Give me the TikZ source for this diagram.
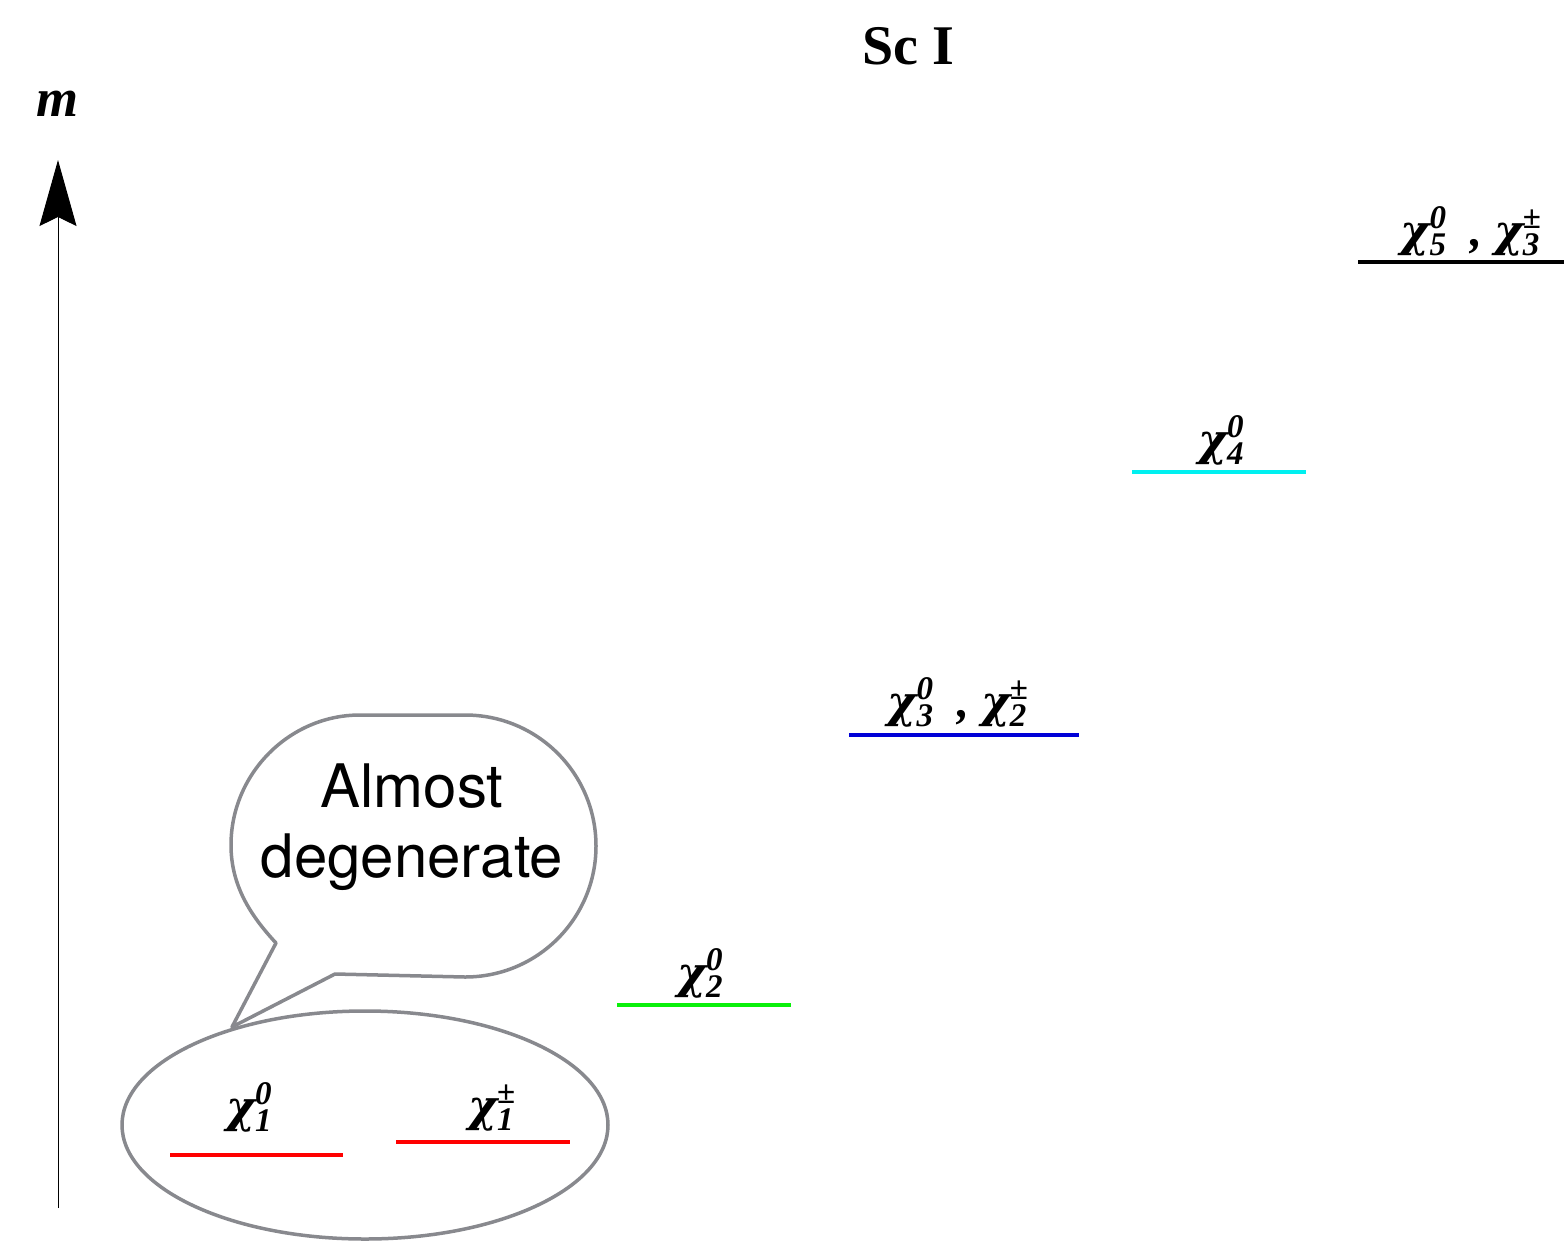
\documentclass[tikz,border=0pt]{standalone}
\usepackage{fontspec}
\setmainfont{Liberation Serif}
\newfontfamily\bubblefont{TeX Gyre Heros}
\newfontfamily\chifont{DejaVu Serif}
\usetikzlibrary{arrows.meta}
\definecolor{bubblegray}{RGB}{136,137,142}
\definecolor{lvgreen}{RGB}{10,240,10}
\definecolor{lvblue}{RGB}{0,0,215}
\definecolor{lvcyan}{RGB}{0,240,240}
\newcommand\chilab[2]{{\fontsize{48}{50}\selectfont\bfseries\itshape {\chifont\bfseries\itshape\fontsize{44}{50}\selectfont χ}\kern0pt\rlap{\raisebox{18pt}{\fontsize{33}{33}\selectfont #1}}\raisebox{-9pt}{\fontsize{33}{33}\selectfont #2}}}
\newcommand\pmsup{\upshape ±}
\newcommand\labcomma{{\fontsize{48}{50}\selectfont\bfseries\itshape\ \ ,\ }}
\begin{document}
\begin{tikzpicture}[x=1pt,y=-1pt,
  level/.style={line width=4pt},
  lab/.style={inner sep=0pt,anchor=center},
  bubble/.style={draw=bubblegray,line width=3.5pt,line join=round}]
\useasboundingbox (0,0) rectangle (1564,1240);
% title
\node[lab] (title) at (908,46) {\fontsize{56}{60}\selectfont\bfseries Sc I};
% axis
\coordinate (axbot) at (58,1208);
\coordinate (axtop) at (58,160);
\draw[line width=1pt,-{Stealth[length=66pt,width=37pt,inset=9pt]}] (axbot) -- (axtop);
\node[lab] (mlab) at (58,104) {\fontsize{54}{56}\selectfont\bfseries\itshape m};
% levels
\coordinate (l1a) at (170,1155); \coordinate (l1b) at (343,1155);
\draw[level,red] (l1a) -- (l1b);
\node[lab] (t1) at (249,1107) {\chilab{0}{1}};
\coordinate (l2a) at (396,1142); \coordinate (l2b) at (570,1142);
\draw[level,red] (l2a) -- (l2b);
\node[lab] (t2) at (491,1108) {\chilab{\pmsup}{1}};
\coordinate (l3a) at (617,1005); \coordinate (l3b) at (791,1005);
\draw[level,lvgreen] (l3a) -- (l3b);
\node[lab] (t3) at (700,973) {\chilab{0}{2}};
\coordinate (l4a) at (849,735); \coordinate (l4b) at (1079,735);
\draw[level,lvblue] (l4a) -- (l4b);
\node[lab] (t4) at (957,702) {\chilab{0}{3}\labcomma\chilab{\pmsup}{2}};
\coordinate (l5a) at (1132,472); \coordinate (l5b) at (1306,472);
\draw[level,lvcyan] (l5a) -- (l5b);
\node[lab] (t5) at (1221,440) {\chilab{0}{4}};
\coordinate (l6a) at (1358,262); \coordinate (l6b) at (1564,262);
\draw[level,black,line width=4.5pt] (l6a) -- (l6b);
\node[lab] (t6) at (1470,231) {\chilab{0}{5}\labcomma\chilab{\pmsup}{3}};
% ellipse
\draw[bubble] (365,1125) ellipse [x radius=243, y radius=114];
% speech bubble
\draw[bubble] (276,943) .. controls (250,915) and (231,885) .. (231,845)
  .. controls (231,774) and (289,715) .. (360,715)
  -- (465,715)
  .. controls (538,715) and (596,774) .. (596,846)
  .. controls (596,918) and (538,977) .. (465,977)
  -- (335,974) -- (232,1027) -- cycle;
\node[lab,align=center,font={\bubblefont\fontsize{60}{70}\selectfont}] (btext) at (412,827) {Almost\\degenerate};
\end{tikzpicture}
\end{document}
